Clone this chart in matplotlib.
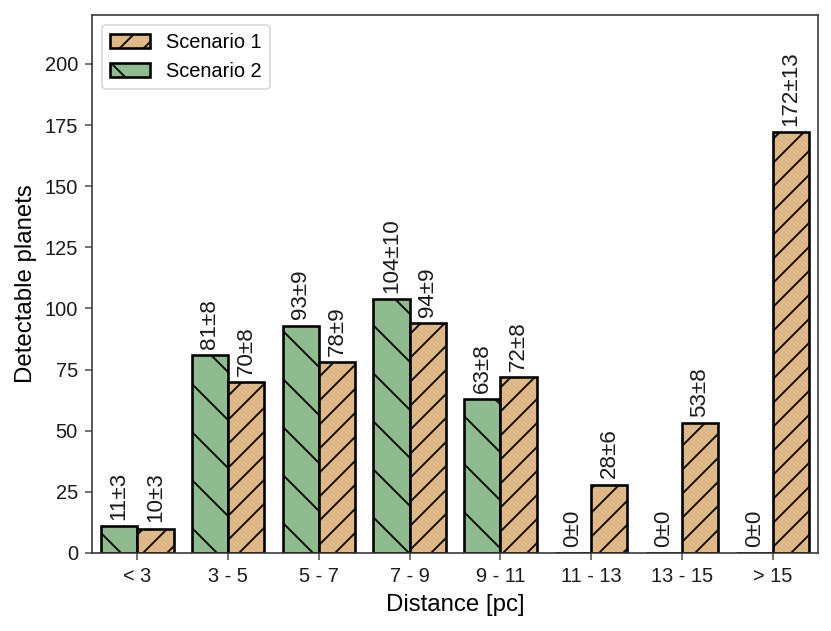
import matplotlib
matplotlib.use("Agg")
import matplotlib.pyplot as plt
import numpy as np

DPI = 144

plt.rcParams['font.family'] = ['Liberation Sans', 'DejaVu Sans']
plt.rcParams['hatch.linewidth'] = 0.9

categories = ['< 3', '3 - 5', '5 - 7', '7 - 9', '9 - 11', '11 - 13', '13 - 15', '> 15']
s1_vals = [10, 70, 78, 94, 72, 28, 53, 172]
s1_err = [3, 8, 9, 9, 8, 6, 8, 13]
s2_vals = [11, 81, 93, 104, 63, 0, 0, 0]
s2_err = [3, 8, 9, 10, 8, 0, 0, 0]

fig = plt.figure(figsize=(831 / DPI, 631 / DPI), dpi=DPI)
ax = fig.add_axes([92/831, 78/631, (818-92)/831, (553-15)/631])

x = np.arange(len(categories))
w = 0.4
b2 = ax.bar(x - w/2, s2_vals, w, color='#8fbc8f', edgecolor='black', linewidth=1.3,
            hatch='\\', label='Scenario 2')
b1 = ax.bar(x + w/2, s1_vals, w, color='#deb887', edgecolor='black', linewidth=1.3,
            hatch='//', label='Scenario 1')

fs_ann = 11.2
for xi, v, e in zip(x - w/2, s2_vals, s2_err):
    ax.text(xi, v + 2.5, f'{v}±{e}', rotation=90, ha='center', va='bottom', fontsize=fs_ann, color='#1a1a1a')
for xi, v, e in zip(x + w/2, s1_vals, s1_err):
    ax.text(xi, v + 2.5, f'{v}±{e}', rotation=90, ha='center', va='bottom', fontsize=fs_ann, color='#1a1a1a')

ax.set_xticks(x)
ax.set_xticklabels(categories)
ax.tick_params(axis='both', labelsize=10, length=3.5, width=0.8, pad=3.5,
               color='#555555', labelcolor='#1a1a1a')
ax.set_xlim(-0.5, 7.5)
ax.set_ylim(0, 220)
ax.set_yticks(np.arange(0, 201, 25))
ax.set_xlabel('Distance [pc]', fontsize=12, labelpad=4)
ax.set_ylabel('Detectable planets', fontsize=12, labelpad=4)
for sp in ax.spines.values():
    sp.set_linewidth(0.8)
    sp.set_color('#333333')

handles = [b1, b2]
leg = ax.legend(handles, ['Scenario 1', 'Scenario 2'], loc='upper left', fontsize=10,
                borderaxespad=0.5, framealpha=0.8)
leg.get_frame().set_linewidth(0.8)

fig.savefig('out.png', dpi=DPI)
